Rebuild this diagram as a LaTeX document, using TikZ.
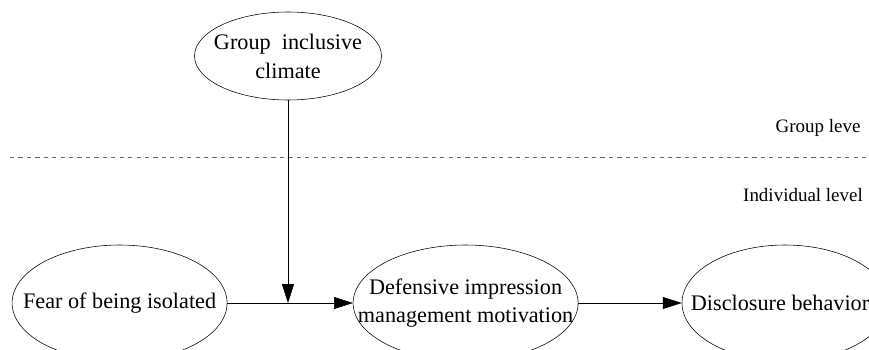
\documentclass[tikz,border=0pt]{standalone}
\usepackage{fontspec}
\setmainfont{Liberation Serif}
\usetikzlibrary{arrows.meta,shapes.geometric}
\tikzset{
  var/.style={draw, ellipse, thin, inner sep=0pt},
  txt/.style={align=center, inner sep=0pt, font=\fontsize{15.8}{20.5}\selectfont},
  lvl/.style={font=\fontsize{13.5}{16}\selectfont},
  arr/.style={-{Triangle[length=0.47cm,width=0.3cm]}}
}
\begin{document}
\begin{tikzpicture}[scale=1]
                \useasboundingbox (0,0) rectangle (21.725,-8.75);
                \clip (0,0) rectangle (21.725,-8.75);

                \node[var, minimum width=4.675cm, minimum height=2.2cm,
                      label={[txt]center:Group\ \ inclusive\\climate}] (climate) at (7.2,-1.4) {};
                \node[var, minimum width=5.375cm, minimum height=2.9cm,
                      label={[txt]center:Fear of being isolated}] (fear) at (2.99,-7.575) {};
                \node[var, minimum width=5.625cm, minimum height=2.9cm,
                      label={[txt]center:Defensive impression\\management motivation}] (dimm) at (11.64,-7.575) {};
                \node[var, minimum width=5.15cm, minimum height=2.9cm,
                      label={[txt, xshift=-3.5pt]center:Disclosure behavior}] (disc) at (19.625,-7.575) {};

                \coordinate (join) at (climate.south |- fear.east);

                \draw[dashed, gray!80!black] (0.25,-3.925) -- (21.725,-3.925);
                \node[lvl] (group) at (20.45,-3.2) {Group leve};
                \node[lvl] (indiv) at (20.075,-4.875) {Individual level};

                \draw[arr] (climate.south) -- (join);
                \draw[arr] (fear.east) -- (dimm.west);
                \draw[arr] (dimm.east) -- (disc.west);
\end{tikzpicture}
\end{document}
